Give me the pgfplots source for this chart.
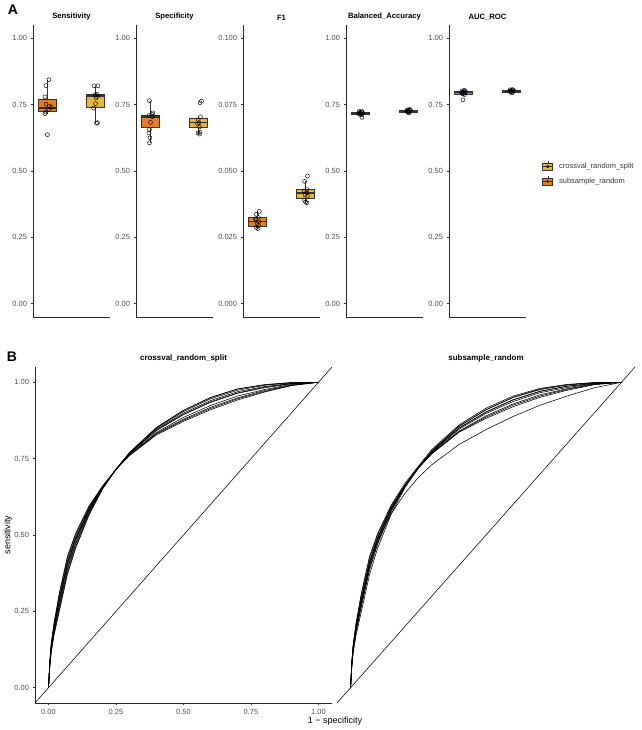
\documentclass[border=0pt]{standalone}
\usepackage{fontspec}
\setmainfont{Liberation Sans}
\usepackage{pgfplots}
\pgfplotsset{compat=1.18}
\usepgfplotslibrary{statistics}

\definecolor{subor}{HTML}{E47E1E}
\definecolor{cvyel}{HTML}{E6B737}
\definecolor{tickgray}{HTML}{4D4D4D}
\definecolor{boxline}{HTML}{333333}

\pgfplotsset{
  base/.style={
    scale only axis, anchor=north west, clip=false,
    axis lines=left,
    axis line style={-, line width=0.6pt, color=black!85},
    tick style={color=black!80, line width=0.5pt},
    tick align=outside, major tick length=2.5bp,
    /pgf/number format/assume math mode=true,
    ticklabel style={font=\fontsize{7.5}{9}\selectfont, color=tickgray},
    title style={font=\bfseries\fontsize{7.7}{9}\selectfont, inner sep=0pt, yshift=-1.5bp},
  },
  facetA/.style={
    base, width=77bp, height=292bp,
    xmin=0.7, xmax=2.3, ymin=-0.05, ymax=1.05,
    xtick=\empty,
    ytick={0,0.25,0.5,0.75,1},
    yticklabel style={/pgf/number format/.cd, fixed, fixed zerofill, precision=2},
  },
  boxplot/draw direction=y,
  boxplot/every median/.style={line width=1.3pt},
  boxplot/whisker extend=0,
  bx/.style={draw=boxline, line width=0.5pt, fill=#1},
  pts/.style={only marks, mark=o, mark size=2bp, black, line width=0.45pt},
  roc/.style={black, line width=0.55pt},
  facetB/.style={
    base, width=297bp, height=336bp,
    xmin=-0.05, xmax=1.05, ymin=-0.05, ymax=1.05,
    xtick={0,0.25,0.5,0.75,1}, ytick={0,0.25,0.5,0.75,1},
    xticklabel style={/pgf/number format/.cd, fixed, fixed zerofill, precision=2},
    yticklabel style={/pgf/number format/.cd, fixed, fixed zerofill, precision=2},
    title style={font=\bfseries\fontsize{8}{9}\selectfont},
  },
}

\begin{document}
\begin{tikzpicture}
\path[use as bounding box] (0,0) rectangle (642bp,730bp);

\node[font=\bfseries\fontsize{14}{16}\selectfont] at (13bp,720bp) {A};
\node[font=\bfseries\fontsize{14}{16}\selectfont] at (12bp,373bp) {B};

% ---------------- Sensitivity
\begin{axis}[facetA, at={(33bp,705bp)}, title={Sensitivity}]
\addplot[bx=subor, boxplot prepared={draw position=1, lower whisker=0.716, lower quartile=0.724, median=0.737, upper quartile=0.770, upper whisker=0.844, box extend=0.38}] coordinates {};
\addplot[bx=cvyel, boxplot prepared={draw position=2, lower whisker=0.680, lower quartile=0.741, median=0.782, upper quartile=0.789, upper whisker=0.821, box extend=0.38}] coordinates {};
\addplot[pts] coordinates {(1.03,0.844) (0.97,0.822) (0.95,0.779) (0.97,0.752) (1.04,0.745) (1.08,0.740) (1.02,0.731) (0.97,0.722) (0.95,0.716) (1.00,0.637)};
\addplot[pts] coordinates {(1.97,0.821) (2.05,0.821) (2.03,0.789) (1.99,0.786) (2.04,0.781) (2.01,0.776) (2.00,0.754) (1.96,0.737) (2.04,0.682) (2.02,0.680)};
\end{axis}

% ---------------- Specificity
\begin{axis}[facetA, at={(136bp,705bp)}, title={Specificity}]
\addplot[bx=subor, boxplot prepared={draw position=1, lower whisker=0.606, lower quartile=0.665, median=0.703, upper quartile=0.711, upper whisker=0.765, box extend=0.38}] coordinates {};
\addplot[bx=cvyel, boxplot prepared={draw position=2, lower whisker=0.640, lower quartile=0.665, median=0.683, upper quartile=0.700, upper whisker=0.704, box extend=0.38}] coordinates {};
\addplot[pts] coordinates {(0.98,0.765) (1.05,0.719) (1.03,0.714) (0.97,0.709) (1.04,0.705) (1.00,0.683) (0.98,0.656) (0.97,0.643) (0.99,0.625) (0.98,0.606)};
\addplot[pts] coordinates {(2.06,0.763) (2.03,0.757) (2.04,0.704) (1.99,0.693) (2.01,0.682) (1.98,0.677) (2.02,0.666) (2.03,0.646) (1.99,0.643) (2.02,0.639)};
\end{axis}

% ---------------- F1
\begin{axis}[facetA, at={(243bp,705bp)}, title={F1}, ymin=-0.005, ymax=0.105,
  ytick={0,0.025,0.05,0.075,0.1},
  yticklabel style={/pgf/number format/.cd, fixed, fixed zerofill, precision=3}]
\addplot[bx=subor, boxplot prepared={draw position=1, lower whisker=0.0283, lower quartile=0.0293, median=0.0311, upper quartile=0.0327, upper whisker=0.0348, box extend=0.38}] coordinates {};
\addplot[bx=cvyel, boxplot prepared={draw position=2, lower whisker=0.0380, lower quartile=0.0399, median=0.0417, upper quartile=0.0430, upper whisker=0.0461, box extend=0.38}] coordinates {};
\addplot[pts] coordinates {(1.04,0.0348) (0.98,0.0337) (1.02,0.0325) (0.96,0.0320) (0.97,0.0316) (1.03,0.0309) (0.99,0.0301) (1.02,0.0295) (0.98,0.0287) (1.01,0.0283)};
\addplot[pts] coordinates {(2.04,0.0481) (1.98,0.0461) (2.03,0.0430) (1.97,0.0425) (2.02,0.0419) (1.99,0.0410) (2.04,0.0405) (1.98,0.0390) (2.00,0.0383) (2.03,0.0380)};
\end{axis}

% ---------------- Balanced accuracy
\begin{axis}[facetA, at={(346bp,705bp)}, title={Balanced\_Accuracy}]
\addplot[bx=subor, boxplot prepared={draw position=1, lower whisker=0.710, lower quartile=0.715, median=0.718, upper quartile=0.722, upper whisker=0.726, box extend=0.38}] coordinates {};
\addplot[bx=cvyel, boxplot prepared={draw position=2, lower whisker=0.719, lower quartile=0.723, median=0.726, upper quartile=0.729, upper whisker=0.732, box extend=0.38}] coordinates {};
\addplot[pts] coordinates {(1.02,0.726) (0.97,0.724) (1.04,0.722) (0.99,0.720) (1.03,0.719) (0.96,0.717) (1.01,0.716) (0.98,0.714) (1.02,0.712) (1.03,0.702)};
\addplot[pts] coordinates {(2.02,0.732) (1.97,0.730) (2.04,0.729) (1.99,0.728) (2.03,0.727) (1.96,0.725) (2.01,0.724) (1.98,0.723) (2.02,0.721) (2.00,0.719)};
\end{axis}

% ---------------- AUC
\begin{axis}[facetA, at={(449bp,705bp)}, title={AUC\_ROC},
  legend style={at={(1.17,0.49)}, anchor=west, draw=none, fill=none,
    font=\fontsize{7.5}{9}\selectfont, row sep=4bp, nodes={text=tickgray!70!black}},
  legend cell align=left]
\addplot[bx=subor, boxplot prepared={draw position=1, lower whisker=0.784, lower quartile=0.790, median=0.795, upper quartile=0.799, upper whisker=0.804, box extend=0.38}, forget plot] coordinates {};
\addplot[bx=cvyel, boxplot prepared={draw position=2, lower whisker=0.793, lower quartile=0.798, median=0.801, upper quartile=0.804, upper whisker=0.807, box extend=0.38}, forget plot] coordinates {};
\addplot[pts, forget plot] coordinates {(1.02,0.804) (0.97,0.802) (1.04,0.800) (0.99,0.798) (1.03,0.797) (0.96,0.795) (1.01,0.793) (0.98,0.791) (1.02,0.788) (0.99,0.768)};
\addplot[pts, forget plot] coordinates {(2.02,0.807) (1.97,0.806) (2.04,0.804) (1.99,0.803) (2.03,0.802) (1.96,0.801) (2.01,0.800) (1.98,0.798) (2.02,0.796) (2.00,0.794)};
\addlegendimage{legend image code/.code={
  \draw[boxline, line width=0.4pt] (5bp,-5bp) -- (5bp,5bp);
  \draw[boxline, line width=0.5pt, fill=cvyel] (0bp,-3.5bp) rectangle (10bp,3.5bp);
  \draw[boxline, line width=0.9pt] (0bp,0bp) -- (10bp,0bp);
  \draw[black, line width=0.4pt] (5bp,0bp) circle (1.3bp);}}
\addlegendentry{\hspace*{4bp}crossval\_random\_split}
\addlegendimage{legend image code/.code={
  \draw[boxline, line width=0.4pt] (5bp,-5bp) -- (5bp,5bp);
  \draw[boxline, line width=0.5pt, fill=subor] (0bp,-3.5bp) rectangle (10bp,3.5bp);
  \draw[boxline, line width=0.9pt] (0bp,0bp) -- (10bp,0bp);
  \draw[black, line width=0.4pt] (5bp,0bp) circle (1.3bp);}}
\addlegendentry{\hspace*{4bp}subsample\_random}
\end{axis}

% ---------------- ROC: crossval
\begin{axis}[facetB, at={(35bp,363bp)}, title={crossval\_random\_split}]
\addplot[roc] coordinates {(-0.05,-0.05) (1.05,1.05)};
\addplot[roc] coordinates {(0,0) (0.005,0.090) (0.01,0.145) (0.02,0.210) (0.04,0.310) (0.07,0.430) (0.10,0.505) (0.15,0.595) (0.20,0.660) (0.25,0.715) (0.30,0.770) (0.40,0.852) (0.50,0.908) (0.60,0.950) (0.70,0.978) (0.80,0.992) (0.90,0.999) (1,1)};
\addplot[roc] coordinates {(0,0) (0.005,0.085) (0.01,0.138) (0.02,0.200) (0.04,0.295) (0.07,0.415) (0.10,0.493) (0.15,0.588) (0.20,0.658) (0.25,0.715) (0.30,0.769) (0.40,0.850) (0.50,0.904) (0.60,0.946) (0.70,0.974) (0.80,0.990) (0.90,0.998) (1,1)};
\addplot[roc] coordinates {(0,0) (0.005,0.080) (0.01,0.130) (0.02,0.190) (0.04,0.280) (0.07,0.400) (0.10,0.480) (0.15,0.580) (0.20,0.655) (0.25,0.715) (0.30,0.770) (0.40,0.852) (0.50,0.908) (0.60,0.950) (0.70,0.978) (0.80,0.992) (0.90,0.999) (1,1)};
\addplot[roc] coordinates {(0,0) (0.005,0.075) (0.01,0.123) (0.02,0.180) (0.04,0.265) (0.07,0.385) (0.10,0.468) (0.15,0.573) (0.20,0.653) (0.25,0.715) (0.30,0.768) (0.40,0.846) (0.50,0.899) (0.60,0.940) (0.70,0.969) (0.80,0.986) (0.90,0.996) (1,1)};
\addplot[roc] coordinates {(0,0) (0.005,0.070) (0.01,0.115) (0.02,0.170) (0.04,0.250) (0.07,0.370) (0.10,0.455) (0.15,0.565) (0.20,0.650) (0.25,0.715) (0.30,0.766) (0.40,0.842) (0.50,0.894) (0.60,0.934) (0.70,0.964) (0.80,0.982) (0.90,0.995) (1,1)};
\addplot[roc] coordinates {(0,0) (0.005,0.088) (0.01,0.142) (0.02,0.206) (0.04,0.304) (0.07,0.424) (0.10,0.500) (0.15,0.592) (0.20,0.659) (0.25,0.715) (0.30,0.764) (0.40,0.836) (0.50,0.885) (0.60,0.924) (0.70,0.955) (0.80,0.976) (0.90,0.993) (1,1)};
\addplot[roc] coordinates {(0,0) (0.005,0.082) (0.01,0.133) (0.02,0.194) (0.04,0.286) (0.07,0.406) (0.10,0.485) (0.15,0.583) (0.20,0.656) (0.25,0.715) (0.30,0.762) (0.40,0.833) (0.50,0.879) (0.60,0.918) (0.70,0.949) (0.80,0.973) (0.90,0.991) (1,1)};
\addplot[roc] coordinates {(0,0) (0.005,0.077) (0.01,0.126) (0.02,0.184) (0.04,0.271) (0.07,0.391) (0.10,0.473) (0.15,0.576) (0.20,0.654) (0.25,0.715) (0.30,0.760) (0.40,0.828) (0.50,0.872) (0.60,0.910) (0.70,0.942) (0.80,0.968) (0.90,0.989) (1,1)};
\addplot[roc] coordinates {(0,0) (0.005,0.072) (0.01,0.118) (0.02,0.174) (0.04,0.256) (0.07,0.376) (0.10,0.460) (0.15,0.568) (0.20,0.651) (0.25,0.715) (0.30,0.761) (0.40,0.830) (0.50,0.876) (0.60,0.914) (0.70,0.946) (0.80,0.970) (0.90,0.990) (1,1)};
\addplot[roc] coordinates {(0,0) (0.005,0.083) (0.01,0.135) (0.02,0.196) (0.04,0.289) (0.07,0.409) (0.10,0.488) (0.15,0.585) (0.20,0.657) (0.25,0.715) (0.30,0.767) (0.40,0.844) (0.50,0.895) (0.60,0.936) (0.70,0.965) (0.80,0.984) (0.90,0.996) (1,1)};
\end{axis}

% ---------------- ROC: subsample
\begin{axis}[facetB, at={(337bp,363bp)}, width=298bp, title={subsample\_random},
  axis lines=none, axis x line=bottom, ytick=\empty]
\addplot[roc] coordinates {(-0.05,-0.05) (1.05,1.05)};
\addplot[roc] coordinates {(0,0) (0.005,0.090) (0.01,0.145) (0.02,0.210) (0.04,0.310) (0.07,0.430) (0.10,0.505) (0.15,0.598) (0.20,0.668) (0.25,0.725) (0.30,0.780) (0.40,0.860) (0.50,0.915) (0.60,0.955) (0.70,0.980) (0.80,0.993) (0.90,0.999) (1,1)};
\addplot[roc] coordinates {(0,0) (0.005,0.085) (0.01,0.138) (0.02,0.200) (0.04,0.295) (0.07,0.415) (0.10,0.493) (0.15,0.590) (0.20,0.662) (0.25,0.722) (0.30,0.776) (0.40,0.856) (0.50,0.910) (0.60,0.950) (0.70,0.976) (0.80,0.991) (0.90,0.998) (1,1)};
\addplot[roc] coordinates {(0,0) (0.005,0.080) (0.01,0.130) (0.02,0.190) (0.04,0.280) (0.07,0.400) (0.10,0.482) (0.15,0.584) (0.20,0.660) (0.25,0.720) (0.30,0.774) (0.40,0.855) (0.50,0.910) (0.60,0.951) (0.70,0.978) (0.80,0.992) (0.90,0.999) (1,1)};
\addplot[roc] coordinates {(0,0) (0.005,0.075) (0.01,0.123) (0.02,0.180) (0.04,0.265) (0.07,0.385) (0.10,0.470) (0.15,0.577) (0.20,0.658) (0.25,0.720) (0.30,0.772) (0.40,0.850) (0.50,0.903) (0.60,0.943) (0.70,0.971) (0.80,0.987) (0.90,0.996) (1,1)};
\addplot[roc] coordinates {(0,0) (0.005,0.070) (0.01,0.115) (0.02,0.170) (0.04,0.250) (0.07,0.370) (0.10,0.457) (0.15,0.568) (0.20,0.654) (0.25,0.718) (0.30,0.770) (0.40,0.846) (0.50,0.898) (0.60,0.937) (0.70,0.966) (0.80,0.983) (0.90,0.995) (1,1)};
\addplot[roc] coordinates {(0,0) (0.005,0.088) (0.01,0.142) (0.02,0.206) (0.04,0.304) (0.07,0.424) (0.10,0.500) (0.15,0.594) (0.20,0.663) (0.25,0.719) (0.30,0.768) (0.40,0.840) (0.50,0.890) (0.60,0.929) (0.70,0.959) (0.80,0.979) (0.90,0.994) (1,1)};
\addplot[roc] coordinates {(0,0) (0.005,0.082) (0.01,0.133) (0.02,0.194) (0.04,0.286) (0.07,0.406) (0.10,0.487) (0.15,0.586) (0.20,0.660) (0.25,0.719) (0.30,0.766) (0.40,0.838) (0.50,0.886) (0.60,0.925) (0.70,0.955) (0.80,0.977) (0.90,0.993) (1,1)};
\addplot[roc] coordinates {(0,0) (0.005,0.077) (0.01,0.126) (0.02,0.184) (0.04,0.271) (0.07,0.391) (0.10,0.475) (0.15,0.579) (0.20,0.657) (0.25,0.719) (0.30,0.766) (0.40,0.836) (0.50,0.882) (0.60,0.920) (0.70,0.951) (0.80,0.974) (0.90,0.992) (1,1)};
\addplot[roc] coordinates {(0,0) (0.005,0.083) (0.01,0.135) (0.02,0.196) (0.04,0.289) (0.07,0.409) (0.10,0.490) (0.15,0.588) (0.20,0.661) (0.25,0.720) (0.30,0.772) (0.40,0.850) (0.50,0.902) (0.60,0.942) (0.70,0.970) (0.80,0.987) (0.90,0.997) (1,1)};
\addplot[roc] coordinates {(0,0) (0.005,0.080) (0.01,0.130) (0.02,0.190) (0.04,0.280) (0.07,0.400) (0.10,0.480) (0.15,0.570) (0.20,0.635) (0.25,0.688) (0.30,0.730) (0.40,0.796) (0.50,0.845) (0.60,0.888) (0.70,0.925) (0.80,0.955) (0.90,0.982) (1,1)};
\end{axis}

\node[font=\fontsize{9}{10}\selectfont] at (335bp,9bp) {1 − specificity};
\node[font=\fontsize{9}{10}\selectfont, rotate=90] at (8bp,195bp) {sensitivity};
\end{tikzpicture}
\end{document}
